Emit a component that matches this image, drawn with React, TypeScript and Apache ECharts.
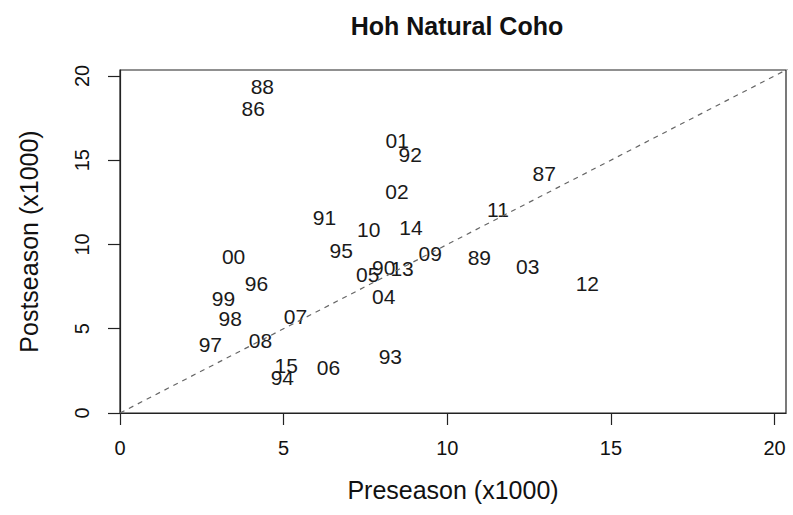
import React, { useEffect, useRef } from "react";
import * as echarts from "echarts";

const years = ["88","86","01","92","02","87","11","91","10","14","00","95","09","89","03","12","05","90","13","04","96","99","98","07","97","08","15","94","06","93"];
const preseason = [4.35,4.07,8.47,8.87,8.46,12.96,11.55,6.25,7.6,8.89,3.47,6.76,9.48,10.98,12.46,14.28,7.57,8.06,8.62,8.06,4.17,3.16,3.37,5.36,2.76,4.29,5.08,4.96,6.37,8.26];
const postseason = [19.35,18.07,16.15,15.36,13.15,14.18,12.05,11.58,10.87,11.02,9.29,9.64,9.49,9.25,8.7,7.67,8.22,8.66,8.6,6.92,7.69,6.8,5.62,5.74,4.08,4.32,2.84,2.13,2.72,3.37];
const tickValues = [0, 5, 10, 15, 20];
const oneToOne = [[0, 0], [25, 25]];

const FONT = "'Liberation Sans', Arial, sans-serif";

export default function App() {
  const ref = useRef<HTMLDivElement>(null);
  useEffect(() => {
    if (!ref.current) return;
    document.body.style.margin = "0";
    const chart = echarts.init(ref.current, null, { renderer: "svg" });
    const points = years.map((y, i) => ({ value: [preseason[i], postseason[i]], name: y }));
    chart.setOption({
      animation: false,
      backgroundColor: "#fff",
      title: {
        text: "Hoh Natural Coho",
        left: 452,
        top: 8,
        textAlign: "center",
        textStyle: { fontFamily: FONT, fontWeight: "bold", fontSize: 25, color: "#111" },
      },
      grid: {
        left: 120, right: 7, top: 70, bottom: 102,
        show: true, borderColor: "#222", borderWidth: 1.2, backgroundColor: "transparent",
      },
      xAxis: {
        type: "value", min: 0, max: 20.35,
        name: "Preseason (x1000)", nameLocation: "middle", nameGap: 64,
        nameTextStyle: { fontFamily: FONT, fontSize: 25, color: "#111" },
        axisLine: { show: true, lineStyle: { color: "#222", width: 1.2 } },
        axisTick: { show: true, length: 12, customValues: tickValues, lineStyle: { color: "#222", width: 1.2 } },
        axisLabel: { customValues: tickValues, margin: 25, fontFamily: FONT, fontSize: 20, color: "#111" },
        splitLine: { show: false },
      },
      yAxis: {
        type: "value", min: 0, max: 20.35,
        name: "Postseason (x1000)", nameLocation: "middle", nameGap: 79,
        nameTextStyle: { fontFamily: FONT, fontSize: 25, color: "#111" },
        axisLine: { show: true, lineStyle: { color: "#222", width: 1.2 } },
        axisTick: { show: true, length: 12, customValues: tickValues, lineStyle: { color: "#222", width: 1.2 } },
        axisLabel: { customValues: tickValues, rotate: 90, margin: 28, fontFamily: FONT, fontSize: 20, color: "#111" },
        splitLine: { show: false },
      },
      series: [
        {
          type: "line",
          data: oneToOne,
          symbol: "none",
          clip: true,
          lineStyle: { color: "#666", width: 1.2, type: [5, 5] },
          silent: true,
        },
        {
          type: "scatter",
          data: points,
          symbolSize: 1,
          itemStyle: { color: "rgba(0,0,0,0)" },
          label: {
            show: true,
            position: "inside",
            offset: [0, -1.5],
            formatter: (p: any) => p.name,
            fontFamily: FONT,
            fontSize: 21,
            color: "#1a1a1a",
            opacity: 1,
            textBorderWidth: 0,
          },
          labelLayout: { hideOverlap: false },
        },
      ],
    });
    return () => chart.dispose();
  }, []);
  return <div ref={ref} style={{ width: 793, height: 515 }} />;
}
